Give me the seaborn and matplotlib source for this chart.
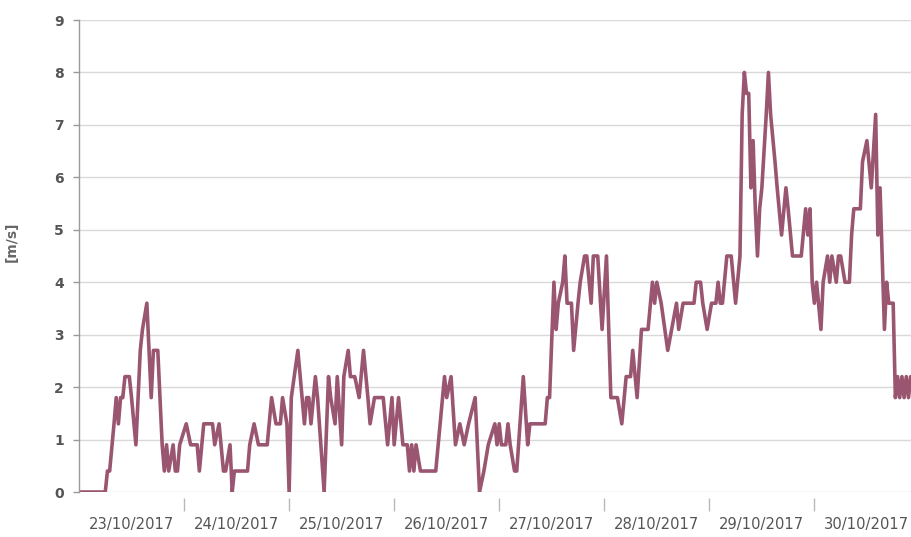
import pandas as pd
import seaborn as sns
import matplotlib.pyplot as plt
import matplotlib.dates as mdates

# hours since 23/10/2017 00:00 and wind speed [m/s]
hours = [
    0, 6, 6.5, 7, 8, 8.5, 9, 9.5, 10, 10.5, 11.5, 12, 13, 14, 14.5, 15.5, 16.5, 17, 18, 19,
    19.5, 20, 20.5, 21.5, 22, 22.5, 23, 24.5, 25.5, 27, 27.5, 28.5, 30.5, 31, 32, 33, 33.5,
    34.5, 35, 35.5, 38.5, 39, 40, 41, 43, 44, 45, 46, 46.5, 47.5, 48,
    48.5, 50, 51.5, 52, 52.5, 53, 54, 54.5, 56, 57, 57.5, 58.5, 59, 60, 60.5, 61.5, 62, 63,
    64, 65, 66, 66.5, 67.5, 69.5, 70.5, 71.5, 72, 73, 74, 75, 75.5, 76, 76.5, 77, 78, 81.5,
    82.5, 83.5, 84, 85, 86, 87, 88, 89, 90.5, 91.5, 92.5, 93.5, 95, 95.5, 96, 96.5, 97.5, 98,
    98.5, 99.5, 100, 101.5, 102.5, 103, 106.5, 107, 107.5, 108.5, 109, 109.5, 110.5, 111,
    111.5, 112.5, 113, 114, 114.5, 115.5, 116, 117, 117.5, 118.5, 119.5, 120.5, 121.5, 123,
    124, 125, 126, 126.5, 127.5, 128.5, 130, 131, 131.5, 132, 133, 134.5, 136.5, 137, 138,
    140.5, 141, 142, 142.5, 143.5, 144.5, 145.5, 146, 146.5, 147, 148, 149, 150, 151, 151.5,
    152, 152.5, 153, 153.5, 154, 154.5, 155, 155.5, 156, 157, 157.5, 158, 159, 159.5, 160.5,
    161.5, 162, 163, 165, 166, 166.5, 167, 167.5, 168, 168.5, 169.5, 170, 171, 171.5, 172,
    173, 173.5, 174, 175, 176, 176.5, 177, 178.5, 179, 180, 181, 182, 182.5, 183, 184, 184.5,
    185, 186, 186.5, 187, 187.5, 188, 188.5, 189, 189.5, 190,
]
speed = [
    0, 0, 0.4, 0.4, 1.3, 1.8, 1.3, 1.8, 1.8, 2.2, 2.2, 1.8, 0.9, 2.7, 3.1, 3.6, 1.8, 2.7, 2.7, 0.9,
    0.4, 0.9, 0.4, 0.9, 0.4, 0.4, 0.9, 1.3, 0.9, 0.9, 0.4, 1.3, 1.3, 0.9, 1.3, 0.4, 0.4,
    0.9, 0, 0.4, 0.4, 0.9, 1.3, 0.9, 0.9, 1.8, 1.3, 1.3, 1.8, 1.3, 0,
    1.8, 2.7, 1.3, 1.8, 1.8, 1.3, 2.2, 1.8, 0, 2.2, 1.8, 1.3, 2.2, 0.9, 2.2, 2.7, 2.2, 2.2,
    1.8, 2.7, 1.8, 1.3, 1.8, 1.8, 0.9, 1.8, 0.9, 1.8, 0.9, 0.9, 0.4, 0.9, 0.4, 0.9, 0.4, 0.4,
    1.3, 2.2, 1.8, 2.2, 0.9, 1.3, 0.9, 1.3, 1.8, 0, 0.4, 0.9, 1.3, 0.9, 1.3, 0.9, 0.9, 1.3,
    0.9, 0.4, 0.4, 2.2, 0.9, 1.3, 1.3, 1.8, 1.8, 4.0, 3.1, 3.6, 4.0, 4.5,
    3.6, 3.6, 2.7, 3.6, 4.0, 4.5, 4.5, 3.6, 4.5, 4.5, 3.1, 4.5, 1.8, 1.8,
    1.3, 2.2, 2.2, 2.7, 1.8, 3.1, 3.1, 4.0, 3.6, 4.0, 3.6, 2.7, 3.6, 3.1, 3.6,
    3.6, 4.0, 4.0, 3.6, 3.1, 3.6, 3.6, 4.0, 3.6, 3.6, 4.5, 4.5, 3.6, 4.5, 7.2,
    8.0, 7.6, 7.6, 5.8, 6.7, 5.4, 4.5, 5.4, 5.8, 7.2, 8.0, 7.2, 6.3, 5.8, 4.9,
    5.8, 5.4, 4.5, 4.5, 5.4, 4.9, 5.4, 4.0, 3.6, 4.0, 3.1, 4.0, 4.5, 4.0, 4.5,
    4.0, 4.5, 4.5, 4.0, 4.0, 4.9, 5.4, 5.4, 6.3, 6.7, 5.8, 7.2, 4.9, 5.8, 3.1, 4.0,
    3.6, 3.6, 1.8, 2.2, 1.8, 2.2, 1.8, 2.2, 1.8, 2.2,
]
day_labels = ["23/10/2017", "24/10/2017", "25/10/2017", "26/10/2017",
              "27/10/2017", "28/10/2017", "29/10/2017", "30/10/2017"]

start = pd.Timestamp("2017-10-23")
df = pd.DataFrame({
    "time": start + pd.to_timedelta(hours, unit="h"),
    "speed": speed,
})

sns.set_style("white")
fig = plt.figure(figsize=(9.12, 5.37), dpi=100)
ax = fig.add_axes([79 / 912, 1 - 492 / 537, 833 / 912, 472 / 537])

sns.lineplot(data=df, x="time", y="speed", ax=ax, color="#9a5670", linewidth=2.6)

ax.set_ylim(0, 9)
ax.set_yticks(range(10))
ax.set_xlim(start, start + pd.Timedelta(hours=190.3))

ax.grid(axis="y", color="#d9d9d9", linewidth=1)
ax.set_axisbelow(True)

# x axis: day-boundary ticks (not at the left edge), labels centred on each day
ax.xaxis.set_major_locator(mdates.DayLocator(bymonthday=range(24, 31)))
ax.xaxis.set_major_formatter(plt.NullFormatter())
ax.xaxis.set_minor_locator(mdates.HourLocator(byhour=12))
ax.xaxis.set_minor_formatter(plt.FixedFormatter(day_labels))
ax.tick_params(axis="x", which="major", direction="out", length=9, width=1,
               color="#b8b8b8", bottom=True)
ax.tick_params(axis="x", which="minor", length=0, pad=14, labelsize=10.6,
               labelcolor="#555555", bottom=True)

ax.spines["bottom"].set_position(("outward", 4))
ax.spines["bottom"].set_visible(False)
ax.spines["top"].set_visible(False)
ax.spines["right"].set_visible(False)
ax.spines["left"].set_color("#9a9a9a")
ax.spines["left"].set_linewidth(1)

ax.tick_params(axis="y", direction="out", length=4, width=1, color="#9a9a9a",
               left=True, pad=7, labelsize=10, labelcolor="#555555")
for t in ax.get_yticklabels():
    t.set_fontweight("bold")

ax.set_xlabel("")
ax.set_ylabel("[m/s]", fontsize=10, fontweight="bold", color="#666666")
ax.yaxis.set_label_coords(-0.072, 0.53)

fig.savefig("out.png", dpi=100)
